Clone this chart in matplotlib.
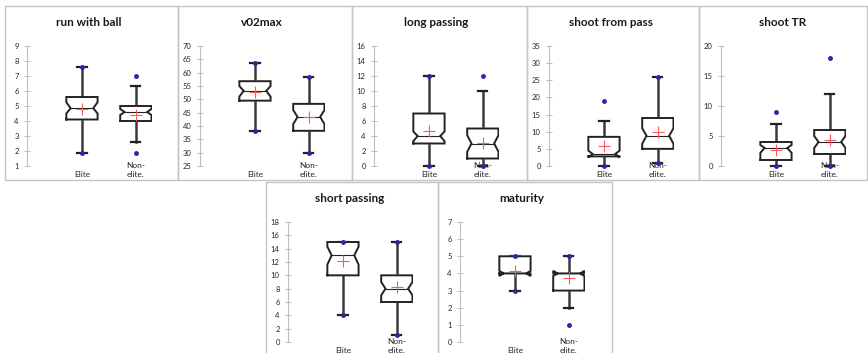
import matplotlib
matplotlib.use('Agg')
import matplotlib.pyplot as plt
import matplotlib.transforms as mtrans
from matplotlib.patches import Rectangle

plt.rcParams['font.family'] = ['Lato', 'DejaVu Sans']

titles = ['run with ball', 'v02max', 'long passing', 'shoot from pass',
          'shoot TR', 'short passing', 'maturity']
groups = ['Elite', 'Non-\nelite.']

# axis ranges
y_lo = [1, 25, 0, 0, 0, 0, 0]
y_hi = [9, 70, 16, 35, 20, 18, 7]
y_step = [1, 5, 2, 5, 5, 2, 1]

# box statistics per panel, [Elite, Non-elite]
whis_lo = [[1.9, 2.6], [38, 30], [0, 0], [0, 1], [0, 0], [4, 1], [3, 2]]
q1 = [[4.1, 4.0], [49.5, 38.2], [3, 1], [2.8, 5], [1, 2], [10, 6], [4, 3]]
med = [[4.85, 4.6], [53.2, 43.4], [4, 3], [3.5, 8.8], [3, 4], [13, 8], [4, 4]]
q3 = [[5.6, 5.0], [56.8, 48.3], [7, 5], [8.5, 14], [4, 6], [15, 10], [5, 4]]
whis_hi = [[7.6, 6.35], [63.7, 58.2], [12, 10], [13, 26], [7, 12], [15, 15], [5, 5]]
means = [[4.78, 4.38], [52.8, 43.4], [4.65, 3.1], [5.8, 9.9], [2.6, 4.4], [12.2, 8.2], [4.15, 3.75]]
notch_lo = [[4.5, 4.4], [51.0, 40.7], [3.3, 1.9], [2.5, 6.5], [2.2, 3.0], [11.6, 7.0], [3.85, 3.85]]
notch_hi = [[5.25, 4.8], [55.0, 46.0], [4.6, 4.1], [4.5, 11.0], [3.5, 5.0], [14.3, 9.0], [4.15, 4.15]]
# min / max and outliers (blue points)
points = [[[1.9, 7.6], [1.9, 7.0]],
          [[38, 63.7], [30, 58.2]],
          [[0, 12], [0, 12]],
          [[0, 19], [1, 26]],
          [[0, 9], [0, 18]],
          [[4, 15], [1, 15]],
          [[3, 5], [1, 5]]]

W, H = 868, 353
# panel frames in pixels (left, top, right, bottom)
frames = [(5, 6, 178, 180), (178, 6, 352, 180), (352, 6, 527, 180),
          (527, 6, 699, 180), (699, 6, 867, 180),
          (266, 182, 438, 354), (438, 182, 612, 354)]

fig = plt.figure(figsize=(W / 100, H / 100), dpi=100)


def draw_box(ax, x, lo, a, m, b, hi, mu, clo, chi, pts):
    hw = 0.29
    nw = 0.21
    xs = [x - hw, x - hw, x - nw, x - hw, x - hw, x + hw, x + hw, x + nw, x + hw, x + hw, x - hw]
    ys = [a, clo, m, chi, b, b, chi, m, clo, a, a]
    ax.plot([x, x], [b, hi], color='#3a3a3a', lw=1.8, zorder=2)
    ax.plot([x, x], [a, lo], color='#3a3a3a', lw=1.8, zorder=2, clip_on=False)
    ax.plot([x - 0.085, x + 0.085], [hi, hi], color='#222222', lw=1.6, zorder=2)
    ax.plot([x - 0.085, x + 0.085], [lo, lo], color='#222222', lw=1.6, zorder=2, clip_on=False)
    ax.fill(xs, ys, color='white', zorder=3)
    ax.plot(xs, ys, color='#222222', lw=1.4, zorder=4, solid_joinstyle='miter')
    ax.plot([x - nw, x + nw], [m, m], color='#222222', lw=0.8, zorder=4)
    ax.plot(x, mu, '+', color='#ff5a5a', ms=8, mew=0.8, zorder=5)
    ax.plot([x] * len(pts), pts, 'o', color='#2828a8', ms=2.5, zorder=6, clip_on=False)


for i, (l, t, r, b) in enumerate(frames):
    fig.patches.append(Rectangle((l / W, 1 - b / H), (r - l) / W, (b - t) / H,
                                 transform=fig.transFigure, fill=False,
                                 ec='#c4c4c4', lw=1.0))
    ax = fig.add_axes([(l + 22) / W, 1 - (t + 160) / H, 125 / W, 120 / H])
    ax.set_ylim(y_lo[i], y_hi[i])
    ax.set_xlim(-0.02, 2.3)
    ax.set_yticks(range(y_lo[i], y_hi[i] + 1, y_step[i]))
    ax.set_xticks([])
    for s in ['top', 'right', 'bottom']:
        ax.spines[s].set_visible(False)
    ax.spines['left'].set_color('#bdbdbd')
    ax.spines['left'].set_linewidth(0.8)
    ax.tick_params(axis='y', direction='inout', length=4, width=0.7, color='#bdbdbd',
                   labelsize=5.5, labelcolor='#262626', pad=4)
    ax.patch.set_visible(False)
    for j in range(2):
        draw_box(ax, j + 1, whis_lo[i][j], q1[i][j], med[i][j], q3[i][j], whis_hi[i][j],
                 means[i][j], notch_lo[i][j], notch_hi[i][j], points[i][j])
    tr = mtrans.blended_transform_factory(ax.transData, ax.transAxes)
    for j, g in enumerate(groups):
        ax.text(j + 1, -0.1, g, transform=tr, ha='center', va='bottom',
                fontsize=6, color='#262626', linespacing=1.4)
    fig.text((l + 84) / W, 1 - (t + 17) / H, titles[i], ha='center', va='center',
             fontsize=8.5, fontweight='bold', color='#1a1a1a')

fig.savefig('out.png', dpi=100)
